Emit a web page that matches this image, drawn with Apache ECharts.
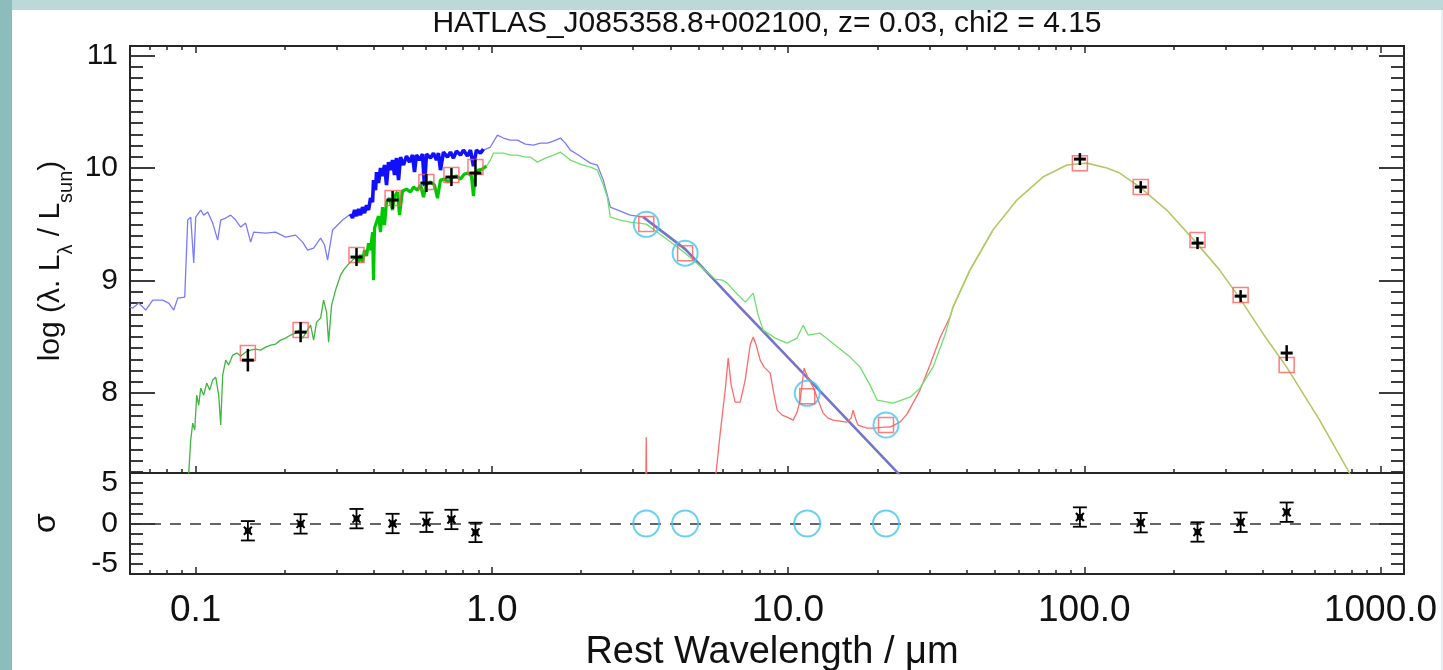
<!DOCTYPE html>
<html><head><meta charset="utf-8">
<script src="https://cdn.jsdelivr.net/npm/echarts@6/dist/echarts.min.js"></script>
<style>
html,body{margin:0;padding:0;width:1443px;height:670px;overflow:hidden;background:#bcd9d9;}
#bgL{position:absolute;left:0;top:0;width:12px;height:670px;background:#8dbcbc;}
#bgR{position:absolute;left:1441px;top:10px;width:2px;height:660px;background:#e4f1f1;}
#paper{position:absolute;left:12px;top:10px;width:1429px;height:660px;background:#fff;}
#chart{position:absolute;left:0;top:0;width:1443px;height:670px;}
</style></head>
<body><div id="bgL"></div><div id="bgR"></div><div id="paper"></div><div id="chart"></div>
<script>
// ---------- axis ticks / labels ----------
const X_MIN = Math.log10(0.06), X_MAX = Math.log10(1200);   // rest wavelength range (um), log10
const xMajorTicks = [-1, 0, 1, 2, 3];
const xTickLabels = ['0.1', '1.0', '10.0', '100.0', '1000.0'];
const xMinorTicks = [];
for (let d = -2; d <= 3; d++) for (let k = 2; k <= 9; k++) { const v = d + Math.log10(k); if (v > X_MIN && v < X_MAX) xMinorTicks.push(v); }
const Y_MIN = 7.29, Y_MAX = 11.085;
const yMainTicks = [8, 9, 10, 11];
const yMainMinor = [];
for (let i = 73; i <= 110; i++) if (i % 10) yMainMinor.push(i / 10);
const S_MIN = -6.25, S_MAX = 6.25;
const sigmaLabels = [-5, 0, 5];
const sigmaMajor = [0];
const sigmaMinor = [-5, -3.75, -2.5, -1.25, 1.25, 2.5, 3.75, 5];

// ---------- model spectra: [log10(lambda/um), log(lambda L_lambda / Lsun)] ----------
const unattenUV = [[-1.2218,8.764],[-1.2125,8.756],[-1.1922,8.80],[-1.1686,8.738],[-1.1450,8.827],[-1.1113,8.827],[-1.0911,8.80],[-1.0742,8.738],[-1.0607,8.844],[-1.0371,8.853],[-1.0270,9.538],[-1.0169,9.564],[-1.0067,9.156],[-1.0,9.564],[-0.9831,9.627],[-0.9730,9.582],[-0.9595,9.609],[-0.9427,9.511],[-0.9258,9.36],[-0.9157,9.538],[-0.8988,9.556],[-0.8820,9.582],[-0.8651,9.538],[-0.8482,9.476],[-0.8314,9.511],[-0.8145,9.342],[-0.8044,9.431],[-0.7639,9.422],[-0.7302,9.431],[-0.6965,9.387],[-0.6627,9.404],[-0.6391,9.342],[-0.6222,9.271],[-0.6020,9.289],[-0.5784,9.378],[-0.5649,9.316],[-0.5548,9.182],[-0.5380,9.449],[-0.5042,9.538],[-0.4772,9.591]];
const unattenOpt = [[-0.4772,9.591],[-0.4705,9.556],[-0.4637,9.627],[-0.4570,9.573],[-0.4503,9.636],[-0.4435,9.582],[-0.4368,9.653],[-0.4300,9.60],[-0.4233,9.671],[-0.4165,9.627],[-0.4098,9.733],[-0.4030,9.698],[-0.3997,9.893],[-0.3929,9.804],[-0.3895,9.964],[-0.3828,9.867],[-0.3761,10.0],[-0.3693,9.929],[-0.3626,10.027],[-0.3558,9.849],[-0.3491,10.053],[-0.3423,9.982],[-0.3356,10.071],[-0.3288,9.938],[-0.3221,10.089],[-0.3153,9.893],[-0.3086,10.098],[-0.2985,10.027],[-0.2884,10.107],[-0.2782,10.053],[-0.2681,10.116],[-0.2614,9.964],[-0.2546,10.116],[-0.2445,10.071],[-0.2344,10.124],[-0.2277,9.84],[-0.2209,10.124],[-0.2074,10.089],[-0.1973,10.133],[-0.1872,10.071],[-0.1804,10.133],[-0.1737,9.982],[-0.1636,10.142],[-0.1501,10.098],[-0.1400,10.142],[-0.1298,10.089],[-0.1197,10.151],[-0.1062,10.116],[-0.0961,10.16],[-0.0826,10.107],[-0.0725,10.16],[-0.0624,10.018],[-0.0523,10.16],[-0.0388,10.133],[-0.0287,10.169]];
const unattenNIR = [[-0.0287,10.16],[-0.0051,10.187],[0.0185,10.293],[0.0388,10.267],[0.0624,10.249],[0.0860,10.249],[0.1130,10.213],[0.1400,10.204],[0.1636,10.222],[0.1872,10.222],[0.2074,10.24],[0.2310,10.267],[0.2479,10.222],[0.2648,10.16],[0.2917,10.116],[0.3322,10.044],[0.3558,10.027],[0.3761,9.893],[0.3895,9.76],[0.3997,9.653],[0.4334,9.618],[0.4671,9.582],[0.5110,9.564]];
const stellarTail = [[0.5110,9.564],[0.6526,9.28],[0.8145,8.827],[1.0405,8.204],[1.3710,7.289],[1.4115,7.173]];
const totalUV = [[-1.027,7.138],[-1.0236,7.289],[-1.0169,7.582],[-1.0101,7.733],[-1.0034,7.671],[-0.9966,7.982],[-0.9899,7.893],[-0.9831,8.044],[-0.9730,7.982],[-0.9629,8.089],[-0.9528,8.027],[-0.9427,8.116],[-0.9325,8.142],[-0.9224,7.982],[-0.9157,7.716],[-0.9089,8.16],[-0.8988,8.293],[-0.8887,8.249],[-0.8752,8.338],[-0.8617,8.356],[-0.8482,8.329],[-0.8314,8.364],[-0.8145,8.382],[-0.7976,8.391],[-0.7808,8.382],[-0.7639,8.409],[-0.7470,8.427],[-0.7302,8.436],[-0.7133,8.471],[-0.6965,8.489],[-0.6796,8.516],[-0.6627,8.533],[-0.6526,8.56],[-0.6391,8.489],[-0.6290,8.533],[-0.6121,8.604],[-0.6020,8.471],[-0.5919,8.631],[-0.5784,8.667],[-0.5683,8.827],[-0.5582,8.72],[-0.5514,8.453],[-0.5413,8.782],[-0.5278,8.916],[-0.5110,9.049],[-0.5008,9.093],[-0.4874,9.138],[-0.4772,9.164],[-0.4604,9.209]];
const totalOpt = [[-0.4604,9.209],[-0.4503,9.164],[-0.4435,9.227],[-0.4368,9.164],[-0.4300,9.271],[-0.4233,9.218],[-0.4165,9.333],[-0.4098,9.271],[-0.4030,9.431],[-0.3997,9.004],[-0.3963,9.467],[-0.3895,9.52],[-0.3828,9.573],[-0.3761,9.431],[-0.3693,9.653],[-0.3626,9.493],[-0.3558,9.698],[-0.3457,9.733],[-0.3356,9.627],[-0.3288,9.751],[-0.3187,9.787],[-0.3120,9.582],[-0.3019,9.796],[-0.2884,9.813],[-0.2749,9.787],[-0.2648,9.831],[-0.2513,9.804],[-0.2411,9.849],[-0.2310,9.742],[-0.2209,9.858],[-0.2074,9.876],[-0.1939,9.849],[-0.1838,9.733],[-0.1737,9.893],[-0.1602,9.902],[-0.1467,9.876],[-0.1332,9.92],[-0.1197,9.929],[-0.1062,9.902],[-0.0927,9.947],[-0.0793,9.956],[-0.0691,9.929],[-0.0624,9.751],[-0.0556,9.964],[-0.0455,9.982],[-0.0320,9.991],[-0.0185,10.018]];
const totalIR = [[-0.0185,10.018],[-0.0051,10.071],[0.0051,10.133],[0.0388,10.133],[0.0624,10.116],[0.0860,10.116],[0.1130,10.098],[0.1298,10.098],[0.1535,10.053],[0.1804,10.089],[0.2074,10.116],[0.2310,10.142],[0.2479,10.107],[0.2648,10.071],[0.2985,10.036],[0.3322,10.009],[0.3558,9.982],[0.3761,9.849],[0.3895,9.742],[0.3997,9.564],[0.4334,9.538],[0.4671,9.52],[0.5211,9.502],[0.5852,9.378],[0.6526,9.244],[0.7032,9.129],[0.7538,9.013],[0.7774,9.004],[0.7943,8.978],[0.8212,8.898],[0.8550,8.809],[0.8820,8.889],[0.8988,8.693],[0.9157,8.56],[0.9562,8.489],[0.9966,8.444],[1.0303,8.489],[1.0506,8.604],[1.0675,8.516],[1.1079,8.533],[1.1585,8.427],[1.2091,8.32],[1.2428,8.231],[1.2766,8.071],[1.3002,7.938],[1.3541,7.911],[1.4115,7.964],[1.4452,8.044],[1.4890,8.231],[1.5295,8.516],[1.5565,8.764],[1.6138,9.093],[1.6914,9.449]];
const dustPAH33 = [[0.519,7.05],[0.521,7.609],[0.523,7.05]];
const dustMIR = [[0.7470,7.049],[0.7707,7.644],[0.7875,8.027],[0.7976,8.311],[0.8078,8.071],[0.8212,7.92],[0.8381,7.92],[0.8550,8.116],[0.8718,8.427],[0.8820,8.498],[0.8921,8.427],[0.9056,8.293],[0.9191,8.231],[0.9393,8.178],[0.9528,7.982],[0.9629,7.849],[0.9798,7.804],[0.9966,7.787],[1.0169,7.76],[1.0303,7.831],[1.0405,7.938],[1.0540,8.222],[1.0675,8.133],[1.0843,8.053],[1.1012,7.938],[1.1180,7.822],[1.1349,7.778],[1.1518,7.76],[1.1754,7.751],[1.1990,7.742],[1.2125,7.778],[1.2192,7.849],[1.2293,7.76],[1.2361,7.716],[1.2664,7.689],[1.2934,7.689],[1.3204,7.698],[1.3440,7.698],[1.3777,7.742],[1.4013,7.813],[1.4216,7.911],[1.4452,8.027],[1.4789,8.249],[1.5126,8.489],[1.5464,8.676]];
const dustFIR = [[1.5464,8.676],[1.5565,8.764],[1.6138,9.093],[1.6914,9.449],[1.7724,9.716],[1.8600,9.92],[1.9410,10.027],[2.0084,10.044],[2.0759,10.0],[2.1197,9.956],[2.1872,9.831],[2.2782,9.627],[2.3794,9.333],[2.4570,9.093],[2.5245,8.844],[2.6088,8.507],[2.6830,8.231],[2.7943,7.76],[2.8954,7.289],[2.9292,7.138]];

// ---------- photometry ----------
const obsWave = [0.150, 0.226, 0.349, 0.462, 0.601, 0.730, 0.880, 96.6, 155, 241, 337, 482];   // um
const obsLogL = [8.293, 8.542, 9.209, 9.716, 9.867, 9.92, 9.956, 10.08, 9.831, 9.333, 8.862, 8.356];
const obsErr  = [0.10, 0.09, 0.08, 0.08, 0.08, 0.08, 0.12, 0.05, 0.04, 0.04, 0.05, 0.07];
const modelWave = [0.150, 0.226, 0.349, 0.462, 0.601, 0.730, 0.880, 3.32, 4.49, 11.6, 21.4, 96.6, 155, 241, 337, 482];
const modelLogL = [8.356, 8.56, 9.227, 9.733, 9.876, 9.938, 10.009, 9.502, 9.244, 7.973, 7.716, 10.044, 9.831, 9.36, 8.871, 8.249];
const limitWave = [3.32, 4.49, 11.6, 21.4];
const limitLogL = [9.50, 9.244, 7.998, 7.716];
const residual  = [-0.9, -0.05, 0.6, 0.0, 0.15, 0.5, -1.1, 0.8, 0.1, -1.05, 0.15, 1.4];
const residErr  = [1.2, 1.2, 1.2, 1.2, 1.2, 1.2, 1.2, 1.2, 1.2, 1.2, 1.2, 1.2];

// ---------- build ----------
const L10 = Math.log10;
const obsData = obsWave.map((w, i) => [L10(w), obsLogL[i], obsErr[i]]);
const modelData = modelWave.map((w, i) => [L10(w), modelLogL[i]]);
const limitData = limitWave.map((w, i) => [L10(w), limitLogL[i]]);
const residData = obsWave.map((w, i) => [L10(w), residual[i], residErr[i]]);
const limitResid = limitWave.map(w => [L10(w), 0]);

const FONT = 'Liberation Sans, Arial, Helvetica, sans-serif';
const AX = '#262626';
function xAx(grid, pos, ticks, len, labels) {
  return {
    type: 'value', gridIndex: grid, position: pos, min: X_MIN, max: X_MAX,
    axisLine: { show: true, onZero: false, lineStyle: { color: AX, width: 2 } },
    axisTick: { show: true, inside: true, length: len, customValues: ticks, lineStyle: { color: AX, width: 1.5 } },
    axisLabel: labels ? { show: true, customValues: xMajorTicks, margin: 18, fontSize: 37, color: '#111', fontFamily: FONT,
      formatter: v => xTickLabels[xMajorTicks.indexOf(Math.round(v))] } : { show: false },
    splitLine: { show: false }
  };
}
function yAx(grid, pos, min, max, ticks, len, labels) {
  return {
    type: 'value', gridIndex: grid, position: pos, min: min, max: max,
    axisLine: { show: true, onZero: false, lineStyle: { color: AX, width: 2 } },
    axisTick: { show: true, inside: true, length: len, customValues: ticks, lineStyle: { color: AX, width: 1.8 } },
    axisLabel: labels ? { show: true, customValues: labels, margin: 12, fontSize: 30, color: '#111', fontFamily: FONT,
      formatter: v => String(Math.round(v)) } : { show: false },
    splitLine: { show: false }
  };
}
function line(data, color, width, z) {
  return { type: 'line', data: data, xAxisIndex: 0, yAxisIndex: 0, symbol: 'none', showSymbol: false,
    lineStyle: { color: color, width: width }, z: z || 2, silent: true, clip: true };
}

const option = {
  animation: false,
  grid: [
    { left: 130, top: 46, width: 1274, height: 427 },
    { left: 130, top: 473, width: 1274, height: 101 }
  ],
  xAxis: [
    xAx(0, 'bottom', xMajorTicks, 7), xAx(0, 'bottom', xMinorTicks, 4),
    xAx(0, 'top', xMajorTicks, 7), xAx(0, 'top', xMinorTicks, 4),
    xAx(1, 'bottom', xMajorTicks, 7, true), xAx(1, 'bottom', xMinorTicks, 4)
  ],
  yAxis: [
    yAx(0, 'left', Y_MIN, Y_MAX, yMainTicks, 25, yMainTicks), yAx(0, 'left', Y_MIN, Y_MAX, yMainMinor, 13),
    yAx(0, 'right', Y_MIN, Y_MAX, yMainTicks, 25), yAx(0, 'right', Y_MIN, Y_MAX, yMainMinor, 13),
    yAx(1, 'left', S_MIN, S_MAX, sigmaMajor, 25, sigmaLabels), yAx(1, 'left', S_MIN, S_MAX, sigmaMinor, 13),
    yAx(1, 'right', S_MIN, S_MAX, sigmaMajor, 25), yAx(1, 'right', S_MIN, S_MAX, sigmaMinor, 13)
  ],
  graphic: [
    { type: 'text', x: 767, y: 24, z: 10, style: { text: 'HATLAS_J085358.8+002100, z= 0.03, chi2 = 4.15',
      font: '30px ' + FONT, fill: '#111', align: 'center', verticalAlign: 'middle' } },
    { type: 'text', x: 772, y: 653, z: 10, style: { text: 'Rest Wavelength / \u03bcm',
      font: '38px ' + FONT, fill: '#111', align: 'center', verticalAlign: 'middle' } },
    { type: 'text', x: 56, y: 261, rotation: Math.PI / 2, z: 10, style: {
      text: '{a|log (\u03bb. L}{s|\u03bb}{a| / L}{s|sun}{a|)}', align: 'center', verticalAlign: 'middle', fill: '#111',
      rich: { a: { fontSize: 30, fontFamily: FONT, lineHeight: 40, verticalAlign: 'top', fill: '#111' },
              s: { fontSize: 20, fontFamily: FONT, lineHeight: 20, verticalAlign: 'bottom', fill: '#111' } } } },
    { type: 'text', x: 46, y: 523, rotation: Math.PI / 2, z: 10, style: { text: '\u03c3',
      font: '32px ' + FONT, fill: '#111', align: 'center', verticalAlign: 'middle' } }
  ],
  series: [
    line(unattenUV, '#7a7aff', 1.3, 2),
    line(unattenNIR, '#7a7aff', 1.3, 2),
    line(unattenOpt, '#1010ff', 3.6, 3),
    line(totalUV, '#3fb63f', 1.3, 4),
    line(totalOpt, '#00c800', 3.2, 4),
    line(totalIR, '#6fe06f', 1.3, 4),
    line(stellarTail, '#7474cc', 2.6, 3),
    line(dustPAH33, '#ff6a6a', 1.3, 3),
    line(dustMIR, '#ff6a6a', 1.3, 3),
    line(dustFIR, '#b5c865', 1.6, 5),
    { type: 'scatter', data: limitData, xAxisIndex: 0, yAxisIndex: 0, symbol: 'circle', symbolSize: 25, z: 6,
      itemStyle: { color: 'rgba(0,0,0,0)', borderColor: '#45c6f2', borderWidth: 2 }, silent: true },
    { type: 'scatter', data: modelData, xAxisIndex: 0, yAxisIndex: 0, symbol: 'rect', symbolSize: 15, z: 7,
      itemStyle: { color: 'rgba(0,0,0,0)', borderColor: '#ff5c5c', borderWidth: 1.5 }, silent: true },
    { type: 'custom', data: obsData, xAxisIndex: 0, yAxisIndex: 0, z: 8, silent: true, clip: true,
      encode: { x: 0, y: 1 },
      renderItem: function (params, api) {
        const x = api.value(0), y = api.value(1), e = api.value(2);
        const c = api.coord([x, y]);
        const t = api.coord([x, y + e]), b = api.coord([x, y - e]);
        const h = 6;
        return { type: 'group', children: [
          { type: 'line', shape: { x1: c[0] - h, y1: c[1], x2: c[0] + h, y2: c[1] }, style: { stroke: '#000', lineWidth: 3 } },
          { type: 'line', shape: { x1: c[0], y1: Math.min(t[1], c[1] - h), x2: c[0], y2: Math.max(b[1], c[1] + h) }, style: { stroke: '#000', lineWidth: 2.5 } }
        ] };
      } },
    { type: 'scatter', data: limitResid, xAxisIndex: 4, yAxisIndex: 4, symbol: 'circle', symbolSize: 26, z: 6,
      itemStyle: { color: 'rgba(0,0,0,0)', borderColor: '#45c6f2', borderWidth: 2 }, silent: true },
    { type: 'custom', data: residData, xAxisIndex: 4, yAxisIndex: 4, z: 8, silent: true,
      encode: { x: 0, y: 1 },
      markLine: { symbol: 'none', silent: true, label: { show: false },
        lineStyle: { type: [11, 9], color: '#333', width: 1.6 }, data: [{ yAxis: 0 }] },
      renderItem: function (params, api) {
        const x = api.value(0), s = api.value(1), e = api.value(2);
        const c = api.coord([x, s]);
        const t = api.coord([x, s + e]), b = api.coord([x, s - e]);
        const w = 7;
        return { type: 'group', children: [
          { type: 'line', shape: { x1: c[0] - w, y1: t[1], x2: c[0] + w, y2: t[1] }, style: { stroke: '#000', lineWidth: 1.8 } },
          { type: 'line', shape: { x1: c[0] - w, y1: b[1], x2: c[0] + w, y2: b[1] }, style: { stroke: '#000', lineWidth: 1.8 } },
          { type: 'line', shape: { x1: c[0], y1: t[1], x2: c[0], y2: b[1] }, style: { stroke: '#000', lineWidth: 1.8 } },
          { type: 'line', shape: { x1: c[0] - 4, y1: c[1] - 4, x2: c[0] + 4, y2: c[1] + 4 }, style: { stroke: '#000', lineWidth: 2 } },
          { type: 'line', shape: { x1: c[0] - 4, y1: c[1] + 4, x2: c[0] + 4, y2: c[1] - 4 }, style: { stroke: '#000', lineWidth: 2 } },
          { type: 'rect', shape: { x: c[0] - 3, y: c[1] - 3, width: 6, height: 6 }, style: { fill: '#000' } }
        ] };
      } }
  ]
};
const chart = echarts.init(document.getElementById('chart'), null, { renderer: 'canvas' });
chart.setOption(option);
</script></body></html>
